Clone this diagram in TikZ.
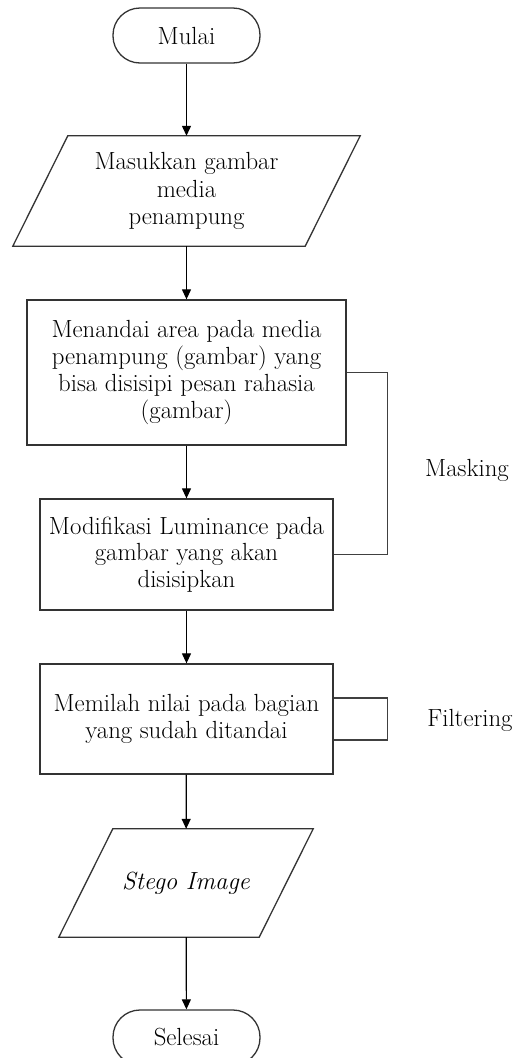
\documentclass[tikz,border=0pt]{standalone}
\usetikzlibrary{arrows.meta}
\begin{document}
\begin{tikzpicture}[x=1pt,y=-1pt,
  every node/.style={font=\fontsize{24.8}{26.7}\selectfont, align=center, inner sep=0pt},
  shapeline/.style={draw=black!80, line width=1.3pt},
  term/.style={shapeline, rectangle, rounded corners=27pt, minimum width=147pt, minimum height=55pt},
  proc/.style={shapeline, rectangle},
  io/.style={rectangle},
  flow/.style={draw=black, line width=1.2pt, -{Triangle[length=10pt,width=9pt]}},
  bracket/.style={draw=black!75, line width=1.3pt},
  lbl/.style={}
]
\useasboundingbox (0,0) rectangle (520,1058);
\node[term] (start) at (186.5,35.5) {Mulai};
\node[io, minimum width=292pt, minimum height=110pt] (in) at (186.5,191) {Masukkan gambar\\[1pt]media\\[1pt]penampung};
\draw[shapeline] ([xshift=27.5pt]in.north west) -- ([xshift=27.5pt]in.north east) -- ([xshift=-27.5pt]in.south east) -- ([xshift=-27.5pt]in.south west) -- cycle;
\node[proc, minimum width=319pt, minimum height=145pt] (b1) at (186.5,372.5) {Menandai area pada media\\penampung (gambar) yang\\bisa disisipi pesan rahasia\\(gambar)};
\node[proc, minimum width=293pt, minimum height=111pt] (b2) at (186.5,554.5) {Modifikasi Luminance pada\\gambar yang akan\\disisipkan};
\node[proc, minimum width=293pt, minimum height=110pt] (b3) at (186.5,719) {Memilah nilai pada bagian\\yang sudah ditandai};
\node[io, minimum width=200pt, minimum height=108pt] (out) at (186,883) {\itshape Stego Image};
\draw[shapeline] ([xshift=27pt]out.north west) -- ([xshift=27pt]out.north east) -- ([xshift=-27pt]out.south east) -- ([xshift=-27pt]out.south west) -- cycle;
\node[term] (end) at (186.5,1037.5) {Selesai};
\node[lbl] (mask) at (467,470) {Masking};
\node[lbl] (filt) at (470,720) {Filtering};

\draw[flow] (start) -- (in);
\draw[flow] (in) -- (b1);
\draw[flow] (b1) -- (b2);
\draw[flow] (b2) -- (b3);
\draw[flow] (b3) -- (out);
\draw[flow] (out) -- (end);

\draw[bracket] (b1.east) -- ++(41,0) |- (b2.east);
\draw[bracket] ([yshift=21pt]b3.east) -- ++(54,0) |- ([yshift=-21pt]b3.east);
\end{tikzpicture}
\end{document}
